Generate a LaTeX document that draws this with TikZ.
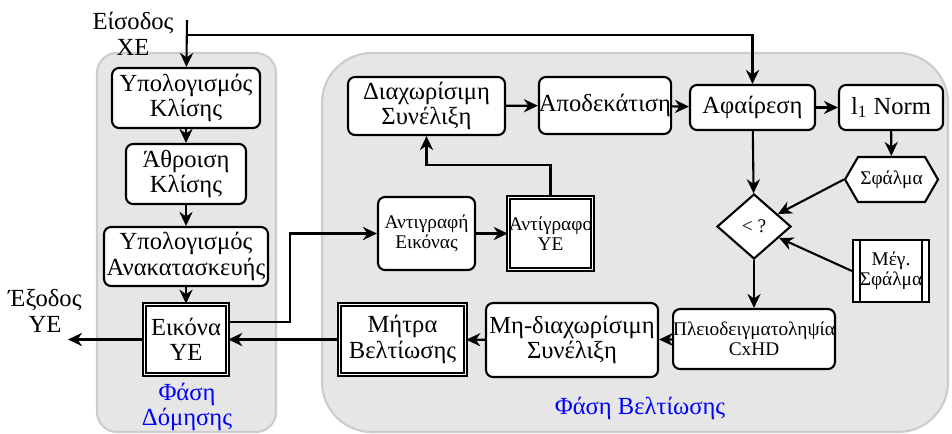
\documentclass[tikz,border=0pt]{standalone}
\usepackage{fontspec}
\setmainfont{Liberation Serif}
\usetikzlibrary{shapes.geometric,shapes.symbols,arrows.meta}
\newcommand{\bigtxt}{\fontsize{14}{14.5}\selectfont}
\newcommand{\smalltxt}{\fontsize{11}{11.5}\selectfont}
\definecolor{panelgray}{HTML}{E6E6E6}
\definecolor{panelline}{HTML}{CCCCCC}
\begin{document}
\begin{tikzpicture}[x=0.02cm, y=-0.02cm, line width=1.2pt,
        >={Stealth[length=8pt,width=7.5pt]},
        panel/.style={draw=panelline, fill=panelgray, line width=1.2pt},
        blk/.style={draw, fill=white, rounded corners=4pt, align=center, inner sep=1pt, font=\bigtxt},
        dbl/.style={draw, fill=white, double, double distance=1pt, line width=0.9pt, align=center, inner sep=1pt, font=\bigtxt},
        lbl/.style={align=center, inner sep=0pt, font=\bigtxt},
        phase/.style={align=center, inner sep=0pt, text=blue, font=\bigtxt}]
        \useasboundingbox (0,0) rectangle (952,433);
        \clip (0,0) rectangle (952,433);

        % panels
        \draw[panel, rounded corners=0.4cm] (97,53) rectangle (276,432);
        \draw[panel, rounded corners=1cm] (322,53) rectangle (948,432);

        % Fasi Domisis
        \node[blk, minimum width=2.96cm, minimum height=1.2cm] (kl) at (186,98) {Υπολογισμός\\Κλίσης};
        \node[blk, minimum width=2.4cm, minimum height=1.2cm] (ath) at (186,174) {Άθροιση\\Κλίσης};
        \node[blk, minimum width=3.28cm, minimum height=1.18cm] (anak) at (186,256.5) {Υπολογισμός\\Ανακατασκευής};
        \node[dbl, minimum width=1.66cm, minimum height=1.4cm] (eik) at (186,339.5) {Εικόνα\\ΥΕ};
        \node[phase] (domisi) at (187,407) {Φάση\\Δόμησης};

        % Fasi Veltiosis
        \node[blk, font=\smalltxt, minimum width=1.94cm, minimum height=1.46cm] (antigr) at (426.5,233.5) {Αντιγραφή\\Εικόνας};
        \node[dbl, font=\smalltxt, inner sep=0pt, minimum width=1.68cm, minimum height=1.44cm] (antigrafo) at (550.5,233.5) {Αντίγραφο\\ΥΕ};
        \node[blk, minimum width=3.14cm, minimum height=1.16cm] (diax) at (426.5,106) {Διαχωρίσιμη\\Συνέλιξη};
        \node[blk, inner sep=0pt, minimum width=2.52cm, minimum height=1.14cm] (apod) at (605,105.5) {Αποδεκάτιση};
        \node[blk, minimum width=2.5cm, minimum height=0.9cm] (afair) at (752.5,107.5) {Αφαίρεση};
        \node[blk, minimum width=2.08cm, minimum height=0.9cm] (norm) at (891,107.5) {l\textsubscript{1} Norm};
        \node[draw, fill=white, signal, signal to=west and east, signal pointer angle=120, inner sep=0pt,
            font=\smalltxt, minimum width=1.86cm, minimum height=0.9cm] (sfalma) at (891.5,179.5) {Σφάλμα};
        \node[draw, fill=white, diamond, inner sep=0pt, font=\smalltxt,
            minimum width=1.48cm, minimum height=1.3cm] (dia) at (754,226.5) {< ?};
        \node[draw, fill=white, align=center, inner sep=0pt, font=\smalltxt,
            minimum width=1.52cm, minimum height=1.24cm] (meg) at (891,271) {Μέγ.\\Σφάλμα};
        \draw ([xshift=0.16cm]meg.north west) -- ([xshift=0.16cm]meg.south west);
        \draw ([xshift=-0.16cm]meg.north east) -- ([xshift=-0.16cm]meg.south east);
        \node[blk, font=\smalltxt, inner sep=0pt, minimum width=2.52cm, minimum height=1.2cm] (plei) at (754,339) {Πλειοδειγματοληψία\\CxHD};
        \node[blk, inner sep=0pt, minimum width=3.44cm, minimum height=1.48cm] (mhdiax) at (572,340) {Μη-διαχωρίσιμη\\Συνέλιξη};
        \node[dbl, minimum width=2.52cm, minimum height=1.4cm] (mitra) at (402.5,339.5) {Μήτρα\\Βελτίωσης};
        \node[phase] (veltiosi) at (640,408) {Φάση Βελτίωσης};

        % input / output
        \node[lbl] (eisodos) at (133,34) {Είσοδος\\ΧΕ};
        \node[lbl] (exodos) at (45,311) {Έξοδος\\ΥΕ};
        \coordinate (in) at (187,20);
        \coordinate (split) at (187,35);
        \coordinate (out) at (68,339.5);
        \coordinate (bend) at (290,233.5);
        \coordinate (up) at (550.5,165);

        \draw[->] (in) -- (kl);
        \draw[->] (split) -| (afair);
        \draw[->] (kl) -- (ath);
        \draw[->] (ath) -- (anak);
        \draw[->] (anak) -- (eik);
        \draw[->] (eik) -- (out);
        \draw[->] ([yshift=0.35cm]eik.east) -| (bend) -- (antigr);
        \draw[->] (antigr) -- (antigrafo);
        \draw[->] (antigrafo) -- (up) -| (diax);
        \draw[->] (diax) -- (apod);
        \draw[->] (apod) -- (afair);
        \draw[->] (afair) -- (norm);
        \draw[->] (norm) -- (sfalma);
        \draw[->] (afair) -- (dia);
        \draw[->] (sfalma.west) -- (dia);
        \draw[->] (meg.west) -- (dia);
        \draw[->] (dia) -- (plei);
        \draw[->] (plei) -- (mhdiax);
        \draw[->] (mhdiax) -- (mitra);
        \draw[->] (mitra) -- (eik);
\end{tikzpicture}
\end{document}
